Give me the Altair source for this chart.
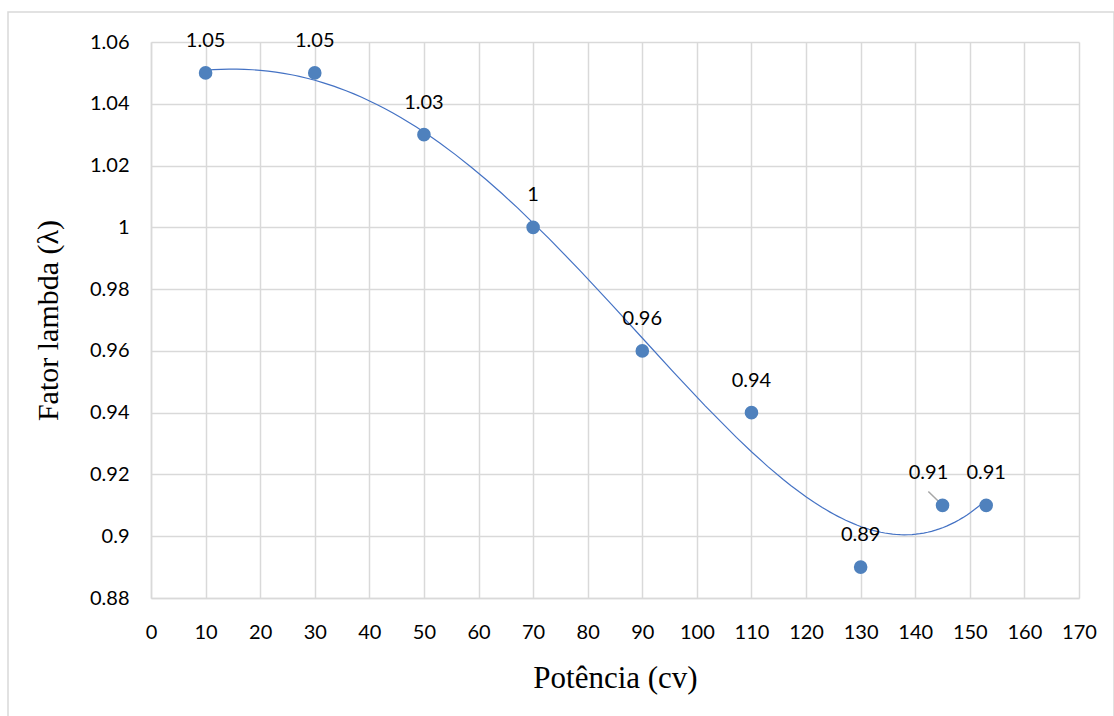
import altair as alt
import pandas as pd

potencia = [10, 30, 50, 70, 90, 110, 130, 145, 153]
lam = [1.05, 1.05, 1.03, 1.00, 0.96, 0.94, 0.89, 0.91, 0.91]
rotulos = ["1.05", "1.05", "1.03", "1", "0.96", "0.94", "0.89", "0.91", "0.91"]

df = pd.DataFrame({"x": potencia, "y": lam, "lab": rotulos})

W, H = 928, 556
LBL = "Lato"
GRID = "#d9d9d9"
BLUE = "#4f81bd"

xs = alt.Scale(domain=[0, 170], nice=False, zero=False)
ys = alt.Scale(domain=[0.88, 1.06], nice=False, zero=False)

xax = alt.Axis(values=list(range(0, 171, 10)), title="Potência (cv)", grid=True, gridColor=GRID,
               gridWidth=1.5, domainColor=GRID, domainWidth=1.5, ticks=False, labelFont=LBL,
               labelFontSize=20, labelColor="#000", labelPadding=24, labelFlush=False,
               labelOverlap=False, titleFont="Liberation Serif",
               titleFontSize=31, titleFontWeight="normal", titleColor="#000", titlePadding=21)
yax = alt.Axis(values=[0.88 + 0.02 * i for i in range(10)], title="Fator lambda (λ)", grid=True,
               gridColor=GRID, gridWidth=1.5, domainColor=GRID, domainWidth=1.5, ticks=False,
               labelFont=LBL, labelFontSize=20, labelColor="#000", labelPadding=22,
               labelFlush=False, labelOverlap=False,
               labelExpr="format(datum.value, '.2~f')",
               titleFont="Liberation Serif", titleFontSize=30, titleFontWeight="normal",
               titleColor="#000", titlePadding=26)

base = alt.Chart(df)

trend = base.transform_regression("x", "y", method="poly", order=4, extent=[10, 153]).mark_line(
    color="#4472c4", strokeWidth=1.2).encode(
    x=alt.X("x:Q", scale=xs, axis=xax), y=alt.Y("y:Q", scale=ys, axis=yax))

pts = base.mark_circle(size=185, color=BLUE, opacity=1).encode(
    x=alt.X("x:Q", scale=xs), y=alt.Y("y:Q", scale=ys))

labels_main = base.transform_filter("datum.x != 145").mark_text(
    font=LBL, fontSize=20, color="#000", dy=-32).encode(
    x=alt.X("x:Q", scale=xs), y=alt.Y("y:Q", scale=ys), text="lab:N")

labels_shift = base.transform_filter("datum.x == 145").mark_text(
    font=LBL, fontSize=20, color="#000", dy=-32, dx=-14).encode(
    x=alt.X("x:Q", scale=xs), y=alt.Y("y:Q", scale=ys), text="lab:N")

leader = base.transform_filter("datum.x == 145").transform_calculate(
    lx="datum.x - 2.6", ly="datum.y + 0.0045").mark_rule(color="#a6a6a6", strokeWidth=1.5).encode(
    x=alt.X("x:Q", scale=xs), y=alt.Y("y:Q", scale=ys), x2="lx:Q", y2="ly:Q")

border = alt.Chart(pd.DataFrame({"a": [0]})).mark_rect(
    fill=None, stroke=GRID, strokeWidth=1.5).encode(
    x=alt.value(-143), x2=alt.value(W + 35), y=alt.value(-30), y2=alt.value(H + 140))

chart = alt.layer(border, trend, leader, pts, labels_main, labels_shift).properties(
    width=W, height=H,
    padding={"left": 151, "top": 42, "right": 35, "bottom": 118},
    autosize=alt.AutoSizeParams(type="none"),
).configure_view(stroke=None)

chart.save("out.html", embed_options={"renderer": "svg", "actions": False})
